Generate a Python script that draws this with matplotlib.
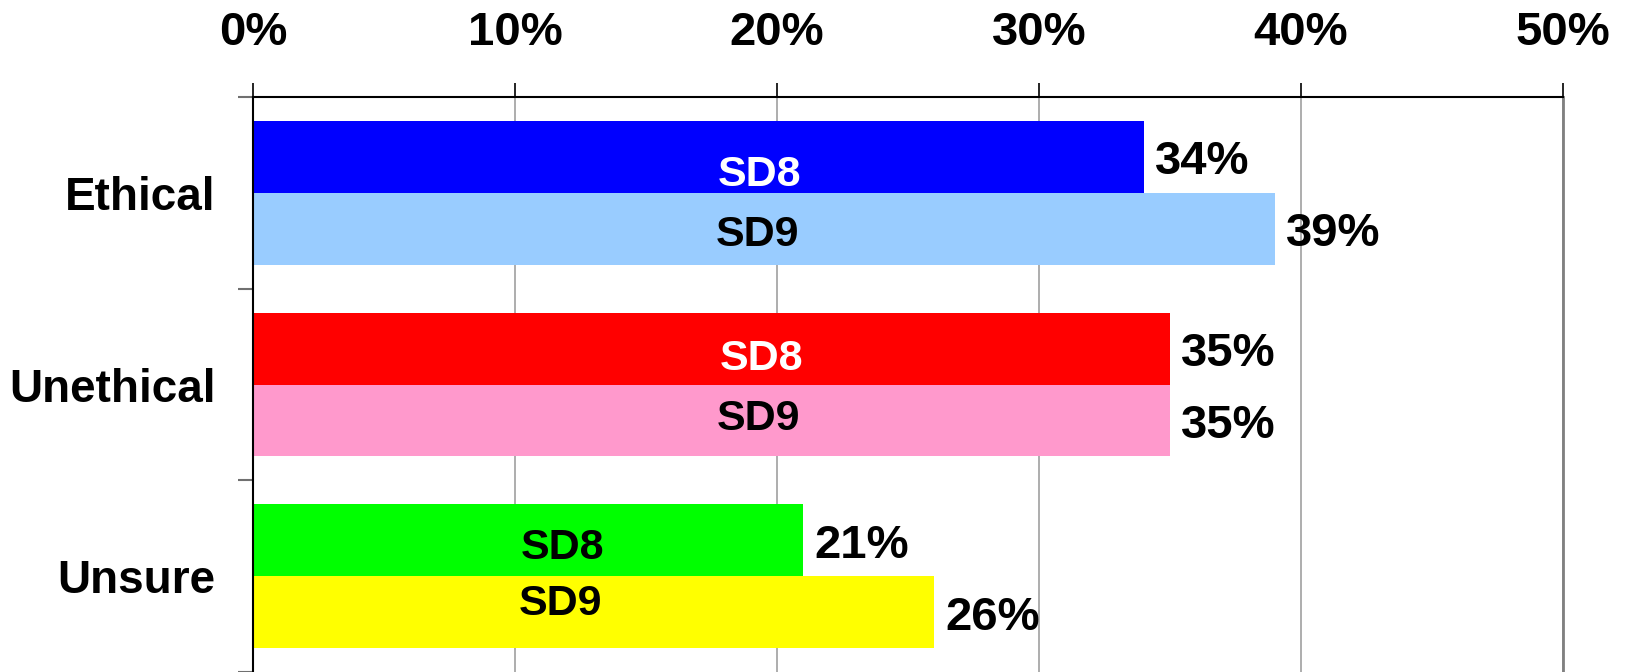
import matplotlib
matplotlib.use("Agg")
import matplotlib.pyplot as plt
import numpy as np

plt.rcParams['font.family'] = ['Liberation Sans', 'DejaVu Sans']

categories = ["Ethical", "Unethical", "Unsure"]
sd8_values = [34, 35, 21]
sd9_values = [39, 35, 26]
series_names = ["SD8", "SD9"]
tick_values = [0, 10, 20, 30, 40, 50]
tick_labels = ["0%", "10%", "20%", "30%", "40%", "50%"]

sd8_colors = ["#0000FF", "#FF0000", "#00FF00"]
sd9_colors = ["#99CCFF", "#FF99CC", "#FFFF00"]
sd8_text_colors = ["white", "white", "black"]

# annotation placement (layout only)
sd8_label_xy = [(19.35, -0.117), (19.4, -0.157), (11.8, -0.17)]
sd9_label_xy = [(19.27, 0.196), (19.3, 0.154), (11.75, 0.12)]

fig = plt.figure(figsize=(16.26, 6.72), dpi=100)
ax = fig.add_axes([253/1626, 0.0, (1563-253)/1626, (672-97)/672])

y = np.arange(len(categories))
h = 0.375
ax.barh(y - h/2, sd8_values, height=h, color=sd8_colors, zorder=2)
ax.barh(y + h/2, sd9_values, height=h, color=sd9_colors, zorder=2)

ax.set_xlim(0, 50)
ax.set_ylim(len(categories) - 0.5, -0.5)

ax.xaxis.tick_top()
ax.set_xticks(tick_values)
ax.set_xticklabels(tick_labels, fontsize=34, fontweight='bold')
ax.tick_params(axis='x', direction='out', length=10, width=1.2, color='black', pad=20)

ax.set_yticks(np.arange(-0.5, len(categories), 1.0))
ax.set_yticklabels([])
ax.set_yticks(y, minor=True)
ax.set_yticklabels(categories, minor=True, fontsize=33, fontweight='bold')
ax.tick_params(axis='y', which='major', direction='out', length=11, width=1.5, color='#707070')
ax.tick_params(axis='y', which='minor', length=0, pad=27)

ax.grid(axis='x', color='#A0A0A0', linewidth=1.2, zorder=0)
ax.set_axisbelow(True)

ax.spines['bottom'].set_visible(False)
ax.spines['top'].set_color('black')
ax.spines['top'].set_linewidth(1.5)
ax.spines['left'].set_color('black')
ax.spines['left'].set_linewidth(1.5)
ax.spines['right'].set_color('#808080')
ax.spines['right'].set_linewidth(2)

for i in range(len(categories)):
    ax.annotate(f"{sd8_values[i]}%", xy=(sd8_values[i], y[i] - h/2), xytext=(8, -4),
                textcoords='offset points', va='center', ha='left',
                fontsize=34, fontweight='bold', zorder=3)
    ax.annotate(f"{sd9_values[i]}%", xy=(sd9_values[i], y[i] + h/2), xytext=(8, -4),
                textcoords='offset points', va='center', ha='left',
                fontsize=34, fontweight='bold', zorder=3)
    ax.text(sd8_label_xy[i][0], y[i] + sd8_label_xy[i][1], series_names[0],
            ha='center', va='center_baseline', fontsize=31, fontweight='bold',
            color=sd8_text_colors[i], zorder=3)
    ax.text(sd9_label_xy[i][0], y[i] + sd9_label_xy[i][1], series_names[1],
            ha='center', va='center_baseline', fontsize=31, fontweight='bold',
            color='black', zorder=3)

fig.savefig("out.png", dpi=100)
